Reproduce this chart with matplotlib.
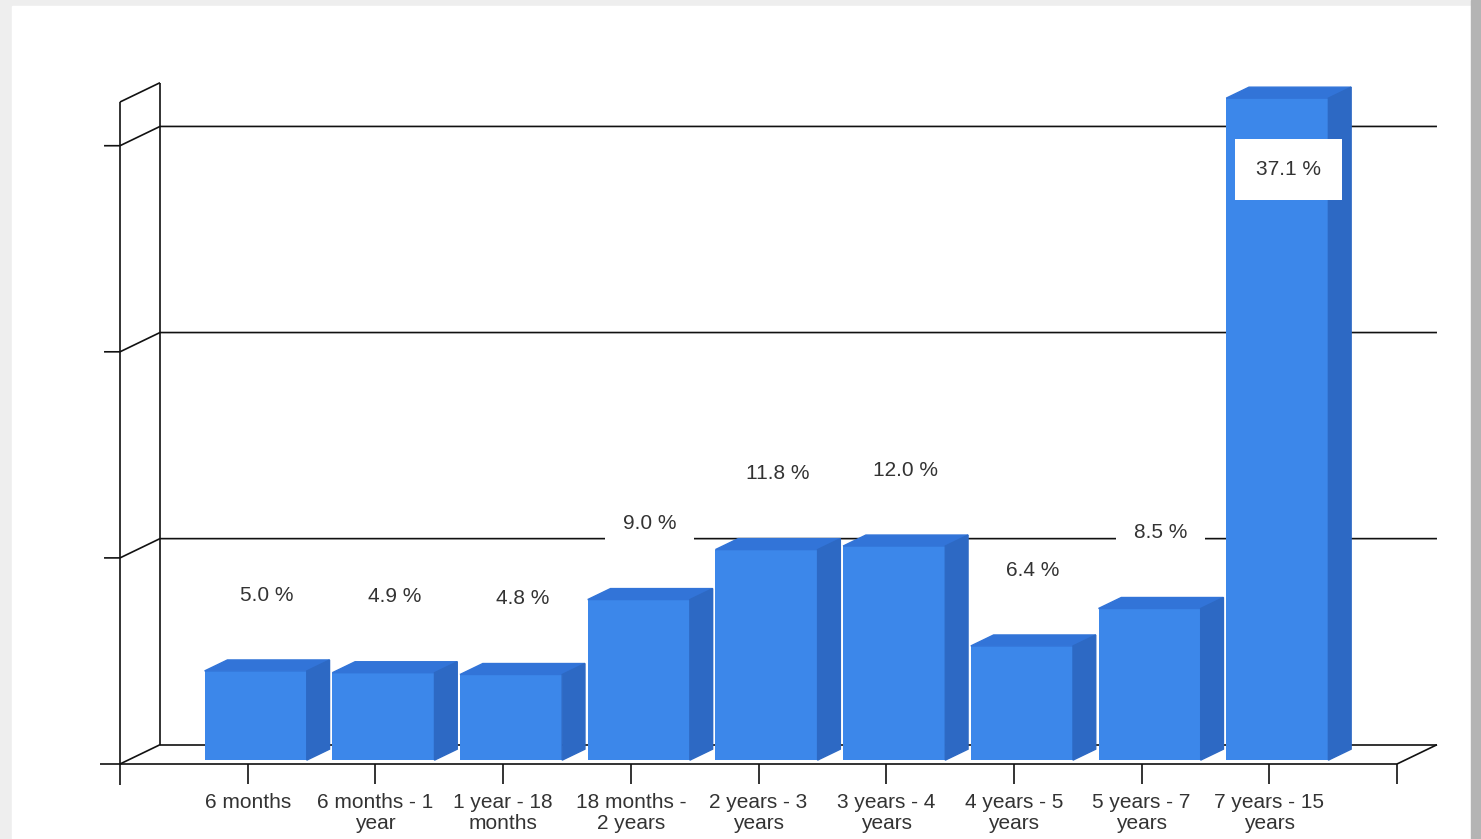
import numpy as np
import matplotlib.pyplot as plt
from matplotlib.patches import Polygon, Rectangle

# data
categories = [
    "6 months",
    "6 months - 1\nyear",
    "1 year - 18\nmonths",
    "18 months -\n2 years",
    "2 years - 3\nyears",
    "3 years - 4\nyears",
    "4 years - 5\nyears",
    "5 years - 7\nyears",
    "7 years - 15\nyears",
]
shares = [5.0, 4.9, 4.8, 9.0, 11.8, 12.0, 6.4, 8.5, 37.1]
grid_values = [11.55, 23.1, 34.65]

# fake 3d look
DEPTH_X = 0.313     # full floor depth, data units
DEPTH_Y = 1.08
BAR_FRONT = 0.2     # bar front / back as fraction of the depth
BAR_BACK = 0.77
BAR_W = 0.8

FRONT = "#3c87ea"
TOP = "#3274d8"
SIDE = "#2d69c4"
LINE = "#111111"
TEXT = "#333333"
LW = 1.2

plt.rcParams["font.family"] = ["Liberation Sans", "DejaVu Sans"]

W, H = 1481, 839
fig = plt.figure(figsize=(W / 100, H / 100), dpi=100)
fig.patch.set_facecolor("#eeeeee")
fig.add_artist(Rectangle((12 / W, 0), (1471 - 12) / W, (H - 6) / H,
                         transform=fig.transFigure, color="white", zorder=-10))
fig.add_artist(Rectangle((1471 / W, 0), 10 / W, 1,
                         transform=fig.transFigure, color="#b4b4b4", zorder=-10))

ax = fig.add_axes([120 / W, 75 / H, 1277 / W, 662 / H])
ax.set_xlim(0, len(categories) + 1)
ax.set_ylim(0, max(shares))
ax.axis("off")

n = len(categories)
x_end = n + 1
y_top = max(shares)


def line(xs, ys, z=2):
    ax.plot(xs, ys, color=LINE, lw=LW, clip_on=False, zorder=z,
            solid_capstyle="butt")


# walls and floor
line([0, 0], [-1.18, y_top])
line([DEPTH_X, DEPTH_X], [DEPTH_Y, y_top + DEPTH_Y])
line([0, DEPTH_X], [y_top, y_top + DEPTH_Y])
line([0, DEPTH_X], [0, DEPTH_Y])
line([DEPTH_X, x_end + DEPTH_X], [DEPTH_Y, DEPTH_Y])
line([x_end, x_end + DEPTH_X], [0, DEPTH_Y])
for g in grid_values:
    line([-0.125, 0, DEPTH_X, x_end + DEPTH_X], [g, g, g + DEPTH_Y, g + DEPTH_Y])

# bars
x = np.arange(1, n + 1)
fx, fy = BAR_FRONT * DEPTH_X, BAR_FRONT * DEPTH_Y
bx, by = BAR_BACK * DEPTH_X, BAR_BACK * DEPTH_Y
ax.bar(x + fx, shares, width=BAR_W, bottom=fy, color=FRONT, clip_on=False,
       zorder=4)
for xi, v in zip(x, shares):
    l, r = xi - BAR_W / 2, xi + BAR_W / 2
    top = Polygon([(l + fx, v + fy), (r + fx, v + fy), (r + bx, v + by), (l + bx, v + by)],
                  closed=True, color=TOP, clip_on=False, zorder=4)
    side = Polygon([(r + fx, fy), (r + bx, by), (r + bx, v + by), (r + fx, v + fy)],
                   closed=True, color=SIDE, clip_on=False, zorder=4)
    ax.add_patch(top)
    ax.add_patch(side)

# front floor line and ticks
line([-0.16, x_end], [0, 0], z=5)
for k in range(1, n + 2):
    line([k, k], [0, -1.1], z=5)

# value labels
for xi, v in zip(x, shares):
    ly = v + 4.47
    pad = 0.85
    if ly > y_top - 2:
        ly = v - 3.8
        pad = 1.0
    ax.text(xi + 0.15, ly, f"{v:.1f} %", ha="center", va="center", fontsize=15,
            color=TEXT, zorder=6,
            bbox=dict(boxstyle=f"square,pad={pad}", fc="white", ec="none"))

# category labels
for xi, c in zip(x, categories):
    ax.text(xi, -1.6, c, ha="center", va="top", fontsize=15, color=TEXT,
            linespacing=1.15, zorder=6)

fig.savefig("out.png", dpi=100)
